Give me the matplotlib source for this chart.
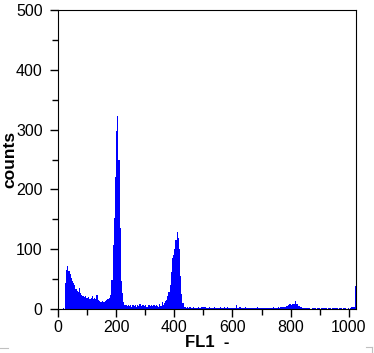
import numpy as np
import matplotlib.pyplot as plt
from matplotlib.lines import Line2D

# FL1 histogram, 4-channel bins (channel 0..1023)
bin_width = 4
counts = [
    # ch 0-63
    0, 0, 0, 0, 2, 0, 44, 66, 72, 63, 58, 52, 46, 43, 40, 33,
    # ch 64-127
    30, 28, 35, 27, 24, 22, 20, 22, 19, 18, 20, 17, 18, 21, 17, 18,
    # ch 128-191
    17, 23, 15, 13, 12, 12, 13, 12, 13, 15, 17, 16, 18, 24, 48, 107,
    # ch 192-255
    152, 221, 297, 322, 249, 135, 46, 26, 12, 7, 6, 5, 7, 5, 6, 4,
    # ch 256-319
    6, 5, 7, 4, 6, 5, 8, 5, 6, 7, 5, 6, 4, 7, 6, 5,
    # ch 320-383
    6, 5, 7, 5, 6, 5, 4, 8, 5, 12, 7, 10, 14, 15, 21, 29,
    # ch 384-447
    40, 62, 85, 90, 101, 115, 128, 118, 100, 55, 25, 10, 4, 3, 2, 3,
    # ch 448-511
    2, 3, 2, 2, 3, 2, 2, 2, 3, 2, 2, 3, 4, 4, 3, 2,
    # ch 512-575
    2, 2, 3, 2, 2, 2, 3, 2, 2, 2, 2, 3, 2, 2, 2, 3,
    # ch 576-639
    2, 3, 2, 2, 2, 2, 2, 2, 2, 6, 2, 2, 4, 2, 2, 2,
    # ch 640-703
    2, 3, 2, 2, 2, 2, 2, 2, 2, 2, 2, 3, 2, 2, 2, 2,
    # ch 704-767
    2, 2, 2, 2, 2, 2, 2, 2, 2, 3, 2, 2, 2, 3, 2, 3,
    # ch 768-831
    4, 3, 3, 3, 5, 5, 6, 8, 7, 9, 8, 8, 13, 8, 5, 5,
    # ch 832-895
    4, 3, 2, 2, 2, 2, 2, 1, 2, 0, 2, 2, 2, 1, 0, 2,
    # ch 896-959
    2, 0, 2, 2, 1, 2, 2, 0, 2, 2, 2, 0, 2, 1, 2, 2,
    # ch 960-1023
    2, 0, 2, 2, 0, 2, 1, 2, 0, 2, 0, 2, 3, 3, 3, 39,
]
x_ticks = [0, 200, 400, 600, 800, 1000]
y_ticks = [0, 100, 200, 300, 400, 500]

plt.rcParams['font.family'] = ['Liberation Sans', 'DejaVu Sans']

fig = plt.figure(figsize=(3.74, 3.53), dpi=100)
ax = fig.add_axes([58 / 374, 44 / 353, 298 / 374, 299 / 353])

edges = np.arange(len(counts) + 1) * bin_width
ax.stairs(counts, edges, fill=True, color='#0000ff', linewidth=0)

ax.set_xlim(0, 1025)
ax.set_ylim(0, 500)
ax.set_xticks(x_ticks)
ax.set_yticks(y_ticks)
ax.set_xticks(np.arange(100, 1025, 200), minor=True)
ax.set_yticks(np.arange(50, 500, 100), minor=True)
ax.tick_params(which='major', direction='out', length=6, width=1, labelsize=11.5)
ax.tick_params(axis='y', which='major', pad=5)
ax.tick_params(axis='x', which='major', pad=2)
ax.tick_params(which='minor', direction='out', length=4, width=1)
for s in ax.spines.values():
    s.set_linewidth(0.8)
    s.set_color('black')

ax.set_xlabel('FL1  -', fontsize=12, fontweight='bold', labelpad=0)
ax.set_ylabel('counts', fontsize=12.5, fontweight='bold', labelpad=-1)

# faint corner marks
grey = '#c0c0c0'
fig.add_artist(Line2D([0, 8 / 374], [5 / 353, 5 / 353], color=grey, lw=0.8))
fig.add_artist(Line2D([366 / 374, 372 / 374], [6 / 353, 6 / 353], color=grey, lw=0.8))
fig.add_artist(Line2D([372 / 374, 372 / 374], [0, 6 / 353], color=grey, lw=0.8))

fig.savefig('out.png', dpi=100)
